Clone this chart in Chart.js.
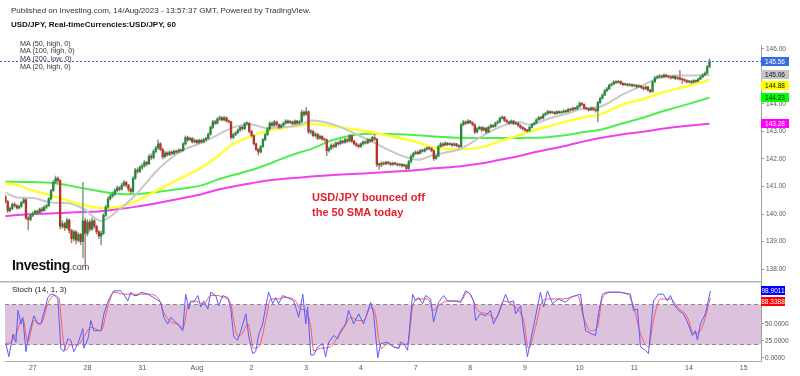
<!DOCTYPE html>
<html>
<head>
<meta charset="utf-8">
<title>USD/JPY 60</title>
<script src="https://cdn.jsdelivr.net/npm/chart.js@4.4.0/dist/chart.umd.min.js"></script>
<style>
  body { margin: 0; background: #fff; font-family: "Liberation Sans", Arial, sans-serif; }
  #wrap { position: relative; width: 800px; height: 376px; overflow: hidden; }
  canvas { position: absolute; left: 0; }
  #mainChart { top: 0; }
  #stochChart { top: 281px; }
  .t { position: absolute; white-space: nowrap; z-index: 2; line-height: 1; }
</style>
</head>
<body>
<div id="wrap">
  <canvas id="mainChart" width="800" height="281"></canvas>
  <canvas id="stochChart" width="800" height="95"></canvas>

  <div class="t" style="left:11px;top:7px;font-size:8px;color:#333">Published on Investing.com, 14/Aug/2023 - 13:57:37 GMT, Powered by TradingView.</div>
  <div class="t" style="left:11px;top:20.5px;font-size:8px;font-weight:bold;color:#111">USD/JPY, Real-timeCurrencies:USD/JPY, 60</div>
  <div class="t" style="left:20px;top:39.5px;font-size:7.2px;line-height:7.8px;color:#333">MA (50, high, 0)<br>MA (100, high, 0)<br>MA (200, low, 0)<br>MA (20, high, 0)</div>
  <div class="t" style="left:312px;top:189.5px;font-size:11px;line-height:15px;font-weight:bold;color:#e5202a">USD/JPY bounced off<br>the 50 SMA today</div>
  <div class="t" style="left:12px;top:258px;font-size:14px;font-weight:bold;letter-spacing:-0.4px;color:#111">Investing<span style="font-size:9px;font-weight:normal;letter-spacing:0;color:#333">.com</span></div>
  <div class="t" style="left:12px;top:286px;font-size:8px;color:#222">Stoch (14, 1, 3)</div>
</div>

<script>
// hourly candles, first one at hour 12 (26 Jul 12:00); every day label sits at a multiple of 24
const firstHour = 12;
const firstOpen = 140.62;

const closes = [
  140.45,140.12,140.20,140.35,140.30,140.22,140.28,140.42,140.52,139.85,139.80,139.95,
  140.02,140.10,140.05,140.18,140.12,140.25,140.30,140.55,140.85,141.15,141.30,141.22,
  139.55,139.65,139.50,139.78,139.40,139.10,139.35,139.05,139.25,139.00,139.75,139.30,
  139.70,139.45,139.75,139.55,139.35,139.20,139.30,139.95,140.25,140.55,140.65,140.72,
  140.85,140.95,140.90,141.05,141.15,141.05,140.90,140.82,141.30,141.60,141.55,141.70,
  141.75,141.88,141.82,142.10,142.05,142.28,142.40,142.55,142.35,142.08,142.22,142.15,
  142.25,142.20,142.28,142.25,142.32,142.30,142.55,142.78,142.70,142.75,142.62,142.68,
  142.60,142.68,142.62,142.70,142.75,142.90,143.15,143.35,143.30,143.45,143.50,143.42,
  143.50,143.38,143.35,142.78,142.88,142.95,143.05,143.15,143.10,143.28,143.30,143.00,
  142.85,142.55,142.35,142.25,142.45,142.70,142.88,143.10,143.30,143.22,143.35,143.25,
  143.15,143.22,143.30,143.38,143.32,143.35,143.28,143.38,143.30,143.35,143.70,143.62,
  143.72,142.98,143.00,142.85,142.90,142.75,142.82,142.72,142.70,142.30,142.38,142.50,
  142.45,142.58,142.55,142.65,142.60,142.70,142.65,142.85,142.65,142.55,142.50,142.45,
  142.55,142.62,142.58,142.70,142.65,142.78,142.72,141.80,141.78,141.85,141.82,141.88,
  141.85,141.80,141.85,141.82,141.78,141.80,141.75,141.78,141.65,141.90,142.10,142.20,
  142.25,142.20,142.30,142.28,142.35,142.40,142.38,142.30,142.02,142.10,142.45,142.55,
  142.50,142.58,142.52,142.55,142.50,142.55,142.48,142.45,143.25,143.35,143.30,143.38,
  143.32,143.25,142.98,143.10,143.15,143.05,143.12,142.98,143.15,143.22,143.18,143.30,
  143.35,143.48,143.52,143.40,143.35,143.30,143.38,143.28,143.30,143.22,143.15,143.10,
  143.05,143.02,143.15,143.25,143.30,143.42,143.50,143.48,143.60,143.65,143.72,143.68,
  143.70,143.65,143.72,143.68,143.70,143.75,143.72,143.80,143.78,143.85,143.82,143.90,
  144.02,143.98,143.85,143.82,143.78,143.85,143.80,143.75,144.05,144.20,144.32,144.48,
  144.55,144.68,144.72,144.80,144.78,144.82,144.75,144.70,144.72,144.68,144.70,144.66,
  144.68,144.62,144.66,144.60,144.55,144.62,144.50,144.45,144.80,144.95,144.98,145.02,
  144.98,145.05,145.00,144.98,144.95,145.00,144.92,144.95,144.90,144.88,144.85,144.80,
  144.82,144.78,144.85,144.82,144.90,144.98,145.05,145.12,145.35,145.56
];

const highs = [
  140.68,140.50,140.26,140.40,140.42,140.34,140.33,140.46,140.58,140.55,139.92,140.00,
  140.08,140.15,140.14,140.22,140.24,140.30,140.35,140.60,140.90,141.22,141.38,141.35,
  141.25,139.75,139.70,139.85,139.82,139.45,139.42,139.40,139.32,139.30,141.15,139.85,
  139.80,139.78,139.85,139.80,139.60,139.40,139.38,140.02,140.32,140.62,140.72,140.80,
  140.92,141.02,141.00,141.12,141.22,141.20,141.08,140.95,141.36,141.66,141.68,141.76,
  141.82,141.94,141.92,142.16,142.18,142.34,142.46,142.70,142.60,142.40,142.28,142.26,
  142.30,142.30,142.33,142.32,142.38,142.36,142.60,142.84,142.82,142.80,142.78,142.73,
  142.70,142.72,142.72,142.75,142.80,142.95,143.20,143.40,143.40,143.50,143.57,143.54,
  143.55,143.53,143.42,143.38,142.94,143.00,143.10,143.20,143.20,143.33,143.36,143.32,
  143.04,142.88,142.58,142.38,142.50,142.75,142.93,143.15,143.36,143.34,143.40,143.38,
  143.28,143.27,143.35,143.43,143.42,143.40,143.38,143.42,143.40,143.40,143.78,143.75,
  143.88,143.75,143.08,143.05,142.96,142.93,142.87,142.85,142.76,142.72,142.44,142.55,
  142.55,142.63,142.62,142.70,142.68,142.75,142.74,142.90,142.88,142.68,142.60,142.55,
  142.60,142.67,142.66,142.75,142.73,142.83,142.90,142.75,141.86,141.90,141.90,141.92,
  141.91,141.88,141.89,141.88,141.85,141.84,141.83,141.82,141.80,141.95,142.15,142.25,
  142.30,142.30,142.35,142.36,142.40,142.45,142.44,142.42,142.33,142.15,142.50,142.60,
  142.58,142.62,142.60,142.60,142.58,142.59,142.57,142.52,143.30,143.40,143.38,143.43,
  143.40,143.35,143.28,143.15,143.20,143.18,143.17,143.15,143.20,143.27,143.25,143.35,
  143.40,143.53,143.57,143.55,143.44,143.38,143.42,143.40,143.35,143.32,143.25,143.18,
  143.13,143.08,143.20,143.30,143.35,143.47,143.55,143.55,143.65,143.70,143.77,143.75,
  143.74,143.73,143.76,143.75,143.74,143.79,143.78,143.84,143.84,143.89,143.88,143.95,
  144.08,144.06,144.00,143.88,143.85,143.89,143.87,143.83,144.10,144.25,144.37,144.53,
  144.60,144.72,144.77,144.85,144.84,144.86,144.84,144.78,144.76,144.75,144.74,144.73,
  144.72,144.70,144.70,144.68,144.63,144.66,144.64,144.53,144.85,145.00,145.03,145.07,
  145.05,145.09,145.08,145.04,145.01,145.04,145.02,144.99,145.22,144.94,144.92,144.88,
  144.86,144.85,144.89,144.88,144.94,145.02,145.10,145.17,145.40,145.65
];

const lows = [
  140.40,140.05,140.08,140.16,140.25,140.18,140.18,140.24,140.38,139.80,139.42,139.75,
  139.90,139.98,140.00,140.02,140.08,140.10,140.20,140.28,140.50,140.82,141.10,141.15,
  139.45,139.48,139.40,139.45,139.30,138.95,139.02,138.90,138.98,138.88,138.40,138.15,
  139.20,139.38,139.40,139.48,139.28,139.10,138.88,139.25,139.90,140.20,140.50,140.60,
  140.68,140.80,140.84,140.86,141.00,140.98,140.82,140.75,140.78,141.25,141.48,141.50,
  141.62,141.70,141.75,141.80,141.98,142.00,142.22,142.35,142.30,142.00,142.04,142.10,
  142.12,142.15,142.16,142.20,142.22,142.25,142.28,142.50,142.64,142.66,142.58,142.58,
  142.55,142.56,142.58,142.58,142.66,142.72,142.86,143.10,143.25,143.26,143.40,143.38,
  143.38,143.34,143.30,142.72,142.74,142.84,142.92,143.00,143.05,143.06,143.24,142.95,
  142.80,142.50,142.30,142.15,142.22,142.42,142.66,142.85,143.05,143.18,143.18,143.20,
  143.10,143.12,143.18,143.26,143.28,143.28,143.24,143.25,143.26,143.27,143.32,143.55,
  143.58,142.92,142.90,142.80,142.80,142.70,142.72,142.68,142.64,142.12,142.25,142.35,
  142.40,142.42,142.50,142.52,142.56,142.57,142.60,142.62,142.60,142.50,142.45,142.40,
  142.42,142.50,142.54,142.55,142.60,142.62,142.68,141.72,141.62,141.72,141.78,141.79,
  141.80,141.76,141.77,141.78,141.74,141.74,141.70,141.72,141.58,141.62,141.86,142.05,
  142.15,142.16,142.18,142.24,142.25,142.32,142.34,142.26,141.95,141.98,142.08,142.42,
  142.45,142.48,142.48,142.50,142.46,142.47,142.44,142.40,142.43,143.20,143.25,143.27,
  143.28,143.20,142.92,142.95,143.06,143.00,143.02,142.92,142.96,143.12,143.14,143.16,
  143.27,143.32,143.45,143.36,143.30,143.26,143.28,143.24,143.25,143.18,143.10,143.05,
  143.00,142.97,143.00,143.12,143.22,143.28,143.40,143.44,143.46,143.57,143.62,143.64,
  143.65,143.61,143.63,143.65,143.65,143.68,143.68,143.70,143.74,143.76,143.78,143.80,
  143.88,143.94,143.80,143.78,143.74,143.76,143.76,143.70,143.35,144.02,144.18,144.30,
  144.45,144.52,144.65,144.70,144.74,144.75,144.70,144.66,144.67,144.64,144.65,144.62,
  144.63,144.58,144.60,144.56,144.50,144.52,144.46,144.40,144.43,144.78,144.92,144.94,
  144.94,144.95,144.96,144.94,144.90,144.92,144.88,144.89,144.86,144.75,144.80,144.76,
  144.76,144.74,144.75,144.78,144.80,144.88,144.95,145.02,145.10,145.32
];

// moving averages, read at these hours
const maHours = [12,17,24,32,39,46,54,61,68,80,90,98,105,112,120,127,134,142,146,156,171,185,193,200,
                 212,222,229,237,242,251,259,266,273,283,291,298,305,313,321];
const ma20 = [140.78,140.60,140.58,140.42,140.40,140.20,139.75,140.10,140.60,141.70,142.33,142.58,142.87,
              143.15,143.25,143.12,143.16,143.25,143.40,143.25,142.70,142.15,141.97,142.15,142.38,142.87,
              143.16,143.34,143.25,143.48,143.66,143.84,143.90,144.35,144.65,144.92,145.03,145.03,145.06];
const ma50 = [141.12,141.05,140.85,140.68,140.50,140.33,140.22,140.25,140.42,140.92,141.35,141.68,142.10,
              142.55,142.82,143.02,143.12,143.22,143.28,143.18,143.00,142.76,142.60,142.42,142.35,142.45,
              142.65,142.85,143.00,143.20,143.38,143.52,143.62,143.98,144.16,144.35,144.52,144.68,144.88];
const ma100 = [141.18,141.17,141.16,141.14,141.05,140.94,140.82,140.74,140.72,140.82,140.93,141.04,141.25,
               141.42,141.60,141.80,142.03,142.26,142.36,142.70,142.92,142.90,142.86,142.82,142.77,142.76,
               142.76,142.76,142.77,142.80,142.88,142.98,143.06,143.30,143.48,143.67,143.84,144.03,144.23];
const ma200 = [139.92,139.96,140.00,140.02,140.05,140.07,140.10,140.17,140.25,140.42,140.58,140.72,140.88,
               141.00,141.12,141.22,141.28,141.33,141.36,141.42,141.48,141.55,141.60,141.66,141.74,141.85,
               141.97,142.10,142.20,142.36,142.50,142.64,142.76,142.90,142.98,143.07,143.15,143.22,143.28];

// stochastic (14, 1, 3)
const kHours = [12.2,13.5,15.3,16.6,17.5,18.8,19.6,21.0,22.3,24.5,26.2,27.5,28.9,30.6,31.9,33.2,35.0,36.3,37.6,39.4,
  40.7,42.0,43.8,46.0,46.4,48.2,49.5,50.8,53.9,55.2,56.9,58.2,59.6,62.6,63.9,65.7,67.0,68.3,70.1,71.4,
  74.5,77.1,80.2,81.5,83.2,84.6,85.9,87.6,89.8,91.1,92.5,93.3,94.6,96.4,97.7,99.0,100.8,102.1,104.3,105.6,
  107.4,109.6,110.9,112.2,113.9,115.3,117.5,118.8,120.5,121.8,123.2,124.9,126.2,127.5,129.3,130.6,131.9,133.7,135.9,138.5,
  140.7,142.5,143.8,144.6,146.0,147.3,149.0,151.2,152.5,153.9,156.1,157.8,159.1,161.3,162.6,164.8,167.0,169.2,172.3,173.6,
  175.4,176.7,179.7,182.4,184.6,185.4,186.8,188.5,190.7,192.0,193.3,195.1,196.4,198.6,199.9,202.1,204.3,206.1,208.7,211.8,
  213.9,216.1,217.5,218.3,220.5,222.7,224.9,226.2,228.4,231.5,232.8,235.0,235.9,238.1,239.4,241.1,242.5,244.6,246.8,248.2,
  249.9,252.1,254.7,257.8,260.0,262.2,264.4,265.3,266.6,268.8,271.0,272.3,274.0,276.2,281.9,286.3,287.6,289.4,290.7,292.9,
  294.2,296.4,298.6,300.8,302.5,303.9,305.2,307.4,309.6,311.3,313.5,314.8,315.7,317.0,319.2,321.4];
const stochK = [21,1.5,35,23,70,50,60,9,35,62,50,50,67,89,94,94,87,14,9,28,
  26,9,21,43,14,28,55,40,40,65,82,92,99,99,94,84,97,92,92,97,
  94,89,82,60,50,60,55,50,40,94,72,84,82,92,75,84,72,97,92,77,
  92,89,72,31,26,40,65,31,6,9,35,50,75,97,80,89,80,92,89,84,
  60,94,50,75,4,4,16,21,1.5,23,33,28,40,50,70,50,65,50,82,65,
  0,21,23,16,14,23,21,11,94,84,89,80,92,87,53,82,92,84,84,82,
  99,94,84,55,65,62,70,50,65,94,82,84,65,77,40,1.5,26,60,97,75,
  99,80,87,82,89,92,94,70,40,36,33,67,94,97,97,94,70,72,16,11,
  6,84,94,94,84,92,80,70,65,53,33,40,26,50,65,98.9011];

const dHours = [12.2,14.4,16.6,19.6,21.8,24.5,27.5,30.6,33.2,35.4,37.2,38.5,40.7,43.8,46.4,49.5,53.9,56.9,59.6,63.9,
  68.3,74.5,78.9,81.5,84.6,87.6,89.8,92.0,94.6,99.0,102.1,105.2,107.8,110.9,112.2,113.9,115.3,118.4,121.0,123.2,
  126.2,128.4,131.5,134.1,138.5,141.6,143.8,146.0,147.3,150.3,154.7,157.8,160.4,163.5,166.6,169.2,172.3,174.5,175.8,177.1,
  179.7,181.1,184.6,185.4,188.5,190.7,192.9,197.3,199.9,202.1,206.1,211.8,214.8,217.0,219.2,223.6,227.1,230.6,235.0,239.4,
  241.6,244.6,247.7,251.2,256.9,263.1,265.7,268.8,271.8,274.0,278.9,285.0,287.6,290.7,294.2,296.4,299.5,303.9,306.9,311.3,
  314.0,317.0,321.4];
const stochD = [21,23,35,58,23,55,50,80,92,89,31,11,19,19,31,45,40,75,97,94,
  94,94,89,67,53,50,43,75,84,80,92,92,89,80,55,32,33,50,14,16,
  55,87,87,89,87,72,70,45,10,14,16,31,43,60,55,55,75,62,28,14,
  21,19,14,19,21,75,87,87,70,77,84,84,97,87,70,65,58,84,77,55,
  14,45,84,87,87,92,60,40,45,89,97,94,77,36,16,55,87,87,75,60,
  36,40,88.3388];

const priceTicks = [138,139,140,141,142,143,144,145,146];
const stochTicks = [0,25,50];
const dayTicks = [24,48,72,96,120,144,168,192,216,240,264,288,312,336];
const dayLabels = ['27','28','31','Aug','2','3','4','7','8','9','10','11','14','15'];

Chart.defaults.font.family = '"Liberation Sans", Arial, sans-serif';

const hours = closes.map((c, i) => firstHour + i);
const opens = closes.map((c, i) => i === 0 ? firstOpen : closes[i - 1]);
const rising = closes.map((c, i) => c >= opens[i]);
const bodyData = hours.map((h, i) => ({ x: h, y: [opens[i], closes[i]] }));
const wickData = hours.map((h, i) => ({
  x: h,
  y: [Math.min(lows[i], opens[i], closes[i]), Math.max(highs[i], opens[i], closes[i])]
}));
const pts = (xs, ys) => xs.map((x, i) => ({ x: x, y: ys[i] }));
const lastClose = closes[closes.length - 1];

// coloured value tags on the right axis, pushed down when they would overlap
function drawTags(ctx, scale, tags, left, width) {
  let prev = -Infinity;
  ctx.save();
  ctx.font = '6.5px "Liberation Sans", Arial, sans-serif';
  ctx.textBaseline = 'middle';
  ctx.textAlign = 'center';
  tags.forEach(t => {
    const cy = Math.max(scale.getPixelForValue(t.value), prev + 10.5);
    prev = cy;
    ctx.fillStyle = t.bg;
    ctx.fillRect(left, Math.round(cy - 4.5), width, 9);
    ctx.fillStyle = t.fg;
    ctx.fillText(t.text, left + width / 2, Math.round(cy - 4.5) + 5);
  });
  ctx.restore();
}

const mainOverlay = {
  id: 'mainOverlay',
  afterDatasetsDraw(chart) {
    const { ctx, chartArea } = chart;
    const yy = Math.round(chart.scales.y.getPixelForValue(lastClose)) + 0.5;
    ctx.save();
    ctx.strokeStyle = '#3f66f2';
    ctx.lineWidth = 1;
    ctx.setLineDash([2, 2]);
    ctx.beginPath();
    ctx.moveTo(0, yy);
    ctx.lineTo(chartArea.right, yy);
    ctx.stroke();
    ctx.restore();
  },
  afterDraw(chart) {
    const { ctx, chartArea } = chart;
    ctx.save();
    ctx.strokeStyle = '#a0a0a0';
    ctx.beginPath();
    ctx.moveTo(chartArea.right + 0.5, 45);
    ctx.lineTo(chartArea.right + 0.5, chart.height);
    ctx.stroke();
    ctx.restore();
    drawTags(ctx, chart.scales.y, [
      { value: lastClose, text: lastClose.toFixed(2), bg: '#3e6be0', fg: '#fff' },
      { value: ma20[ma20.length - 1], text: ma20[ma20.length - 1].toFixed(2), bg: '#c4c4c4', fg: '#111' },
      { value: ma50[ma50.length - 1], text: ma50[ma50.length - 1].toFixed(2), bg: '#ffff00', fg: '#111' },
      { value: ma100[ma100.length - 1], text: ma100[ma100.length - 1].toFixed(2), bg: '#00ff00', fg: '#111' },
      { value: ma200[ma200.length - 1], text: ma200[ma200.length - 1].toFixed(2), bg: '#ff00ff', fg: '#fff' }
    ], chartArea.right, 28);
  }
};

const stochOverlay = {
  id: 'stochOverlay',
  beforeDatasetsDraw(chart) {
    const { ctx, chartArea: a } = chart;
    const y = chart.scales.y;
    const y80 = Math.round(y.getPixelForValue(80)) + 0.5;
    const y20 = Math.round(y.getPixelForValue(20)) + 0.5;
    ctx.save();
    ctx.fillStyle = '#dcc2dc';
    ctx.fillRect(a.left, y80, a.right - a.left, y20 - y80);
    ctx.strokeStyle = '#8a8a8a';
    ctx.lineWidth = 1;
    ctx.setLineDash([4, 3]);
    [y80, y20].forEach(p => {
      ctx.beginPath();
      ctx.moveTo(a.left, p);
      ctx.lineTo(a.right, p);
      ctx.stroke();
    });
    ctx.restore();
  },
  afterDraw(chart) {
    const { ctx, chartArea: a } = chart;
    ctx.save();
    ctx.fillStyle = '#b4b4b4';
    ctx.fillRect(0, 0, a.right, 1.5);
    ctx.strokeStyle = '#a0a0a0';
    ctx.beginPath();
    ctx.moveTo(a.right + 0.5, 0);
    ctx.lineTo(a.right + 0.5, a.bottom);
    ctx.stroke();
    ctx.restore();
    drawTags(ctx, chart.scales.y, [
      { value: stochK[stochK.length - 1], text: stochK[stochK.length - 1].toFixed(4), bg: '#0000ff', fg: '#fff' },
      { value: stochD[stochD.length - 1], text: stochD[stochD.length - 1].toFixed(4), bg: '#ff0000', fg: '#fff' }
    ], a.right, 24);
  }
};

const maLine = (label, data, color, width) => ({
  type: 'line', label: label, data: data, borderColor: color, borderWidth: width,
  pointRadius: 0, cubicInterpolationMode: 'monotone', order: 3
});

new Chart(document.getElementById('mainChart'), {
  type: 'bar',
  data: {
    datasets: [
      { type: 'bar', label: 'body', data: bodyData, order: 0, grouped: false,
        backgroundColor: rising.map(u => u ? '#23893f' : '#b3362c'), barThickness: 1.7, minBarLength: 1 },
      { type: 'bar', label: 'wick', data: wickData, order: 1, grouped: false,
        backgroundColor: rising.map(u => u ? '#6f9f7b' : '#b27c77'), barThickness: 0.8 },
      maLine('MA (20, high, 0)', pts(maHours, ma20), '#c8c8c8', 2),
      maLine('MA (50, high, 0)', pts(maHours, ma50), '#ffff33', 2.5),
      maLine('MA (100, high, 0)', pts(maHours, ma100), '#4cef4c', 2),
      maLine('MA (200, low, 0)', pts(maHours, ma200), '#f040f0', 2)
    ]
  },
  options: {
    responsive: false,
    animation: false,
    events: [],
    layout: { padding: { left: 5, top: 5, bottom: 5, right: 0 } },
    plugins: { legend: { display: false }, tooltip: { enabled: false } },
    scales: {
      x: { type: 'linear', min: 11.8, max: 343.6, offset: false, display: false },
      y: {
        position: 'right', min: 137.78, max: 147.563,
        afterFit: s => { s.width = 39; },
        afterBuildTicks: s => { s.ticks = priceTicks.map(v => ({ value: v })); },
        ticks: { callback: v => v.toFixed(2), font: { size: 6.5 }, color: '#555', padding: 2 },
        grid: { drawOnChartArea: false, tickLength: 3, color: '#999' },
        border: { display: false }
      }
    }
  },
  plugins: [mainOverlay]
});

new Chart(document.getElementById('stochChart'), {
  type: 'line',
  data: {
    datasets: [
      { label: '%K', data: pts(kHours, stochK), borderColor: '#5a5aff', borderWidth: 1, pointRadius: 0, order: 0 },
      { label: '%D', data: pts(dHours, stochD), borderColor: '#ff5a5a', borderWidth: 1, pointRadius: 0,
        cubicInterpolationMode: 'monotone', order: 1 }
    ]
  },
  options: {
    responsive: false,
    animation: false,
    events: [],
    layout: { padding: { left: 5, top: 4, right: 0, bottom: 0 } },
    plugins: { legend: { display: false }, tooltip: { enabled: false } },
    scales: {
      x: {
        type: 'linear', min: 11.8, max: 343.6, offset: false,
        afterFit: s => { s.height = 15; },
        afterBuildTicks: s => { s.ticks = dayTicks.map(v => ({ value: v })); },
        ticks: { autoSkip: false, maxRotation: 0, padding: 3, font: { size: 7 }, color: '#555',
                 callback: v => dayLabels[dayTicks.indexOf(v)] },
        grid: { drawOnChartArea: false, drawTicks: false },
        border: { display: true, color: '#aaa' }
      },
      y: {
        position: 'right', min: -4.82, max: 106.3,
        afterFit: s => { s.width = 39; },
        afterBuildTicks: s => { s.ticks = stochTicks.map(v => ({ value: v })); },
        ticks: { callback: v => v.toFixed(4), font: { size: 6.5 }, color: '#555', padding: 1 },
        grid: { drawOnChartArea: false, tickLength: 3, color: '#999' },
        border: { display: false }
      }
    }
  },
  plugins: [stochOverlay]
});
</script>
</body>
</html>
